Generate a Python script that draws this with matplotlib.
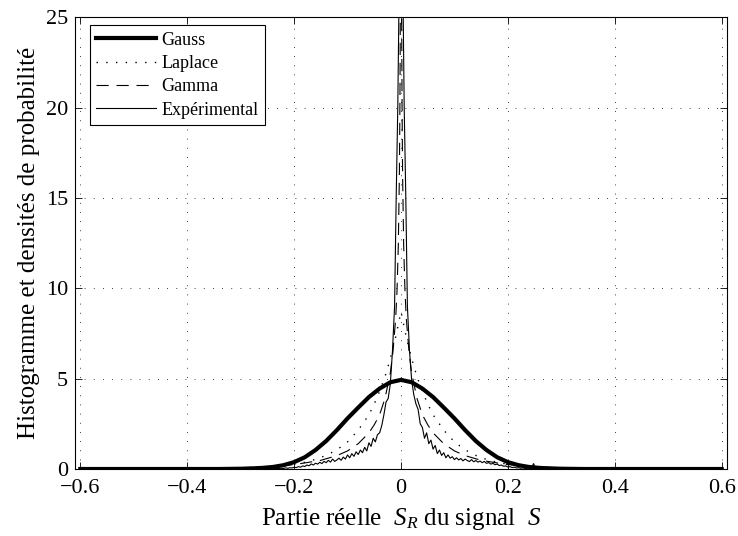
import numpy as np
import matplotlib.pyplot as plt

plt.rcParams['font.family'] = ['Liberation Serif', 'DejaVu Serif']
plt.rcParams['mathtext.fontset'] = 'custom'
plt.rcParams['mathtext.rm'] = 'Liberation Serif'
plt.rcParams['mathtext.it'] = 'Liberation Serif:italic'

# densites (demi-axe positif, symetriques autour de 0)
gauss_x = [0, 0.02, 0.04, 0.06, 0.08, 0.10, 0.12, 0.14, 0.16, 0.18, 0.20,
           0.22, 0.24, 0.26, 0.28, 0.30, 0.34, 0.60]
gauss_y = [4.93, 4.80, 4.45, 3.98, 3.40, 2.80, 2.15, 1.55, 1.05, 0.65, 0.38,
           0.21, 0.11, 0.06, 0.03, 0.015, 0.0, 0.0]

laplace_x = [0, 0.01, 0.02, 0.03, 0.04, 0.05, 0.06, 0.08, 0.10, 0.12, 0.14,
             0.16, 0.18, 0.20, 0.25, 0.30, 0.40, 0.60]
laplace_y = [8.7, 7.3, 6.1, 5.1, 4.3, 3.6, 3.0, 2.15, 1.5, 1.06, 0.75,
             0.53, 0.37, 0.26, 0.11, 0.045, 0.008, 0.0]

gamma_x = [0, 0.001, 0.0015, 0.002, 0.003, 0.005, 0.0075, 0.01, 0.015, 0.02,
           0.03, 0.04, 0.05, 0.06, 0.08, 0.10, 0.12, 0.15, 0.20, 0.25, 0.30,
           0.40, 0.60]
gamma_y = [40, 28.9, 23.4, 20.2, 16.3, 12.4, 9.8, 8.3, 6.5, 5.3,
           3.9, 3.0, 2.45, 2.0, 1.4, 1.0, 0.74, 0.48, 0.24, 0.13, 0.07,
           0.02, 0.003]

# histogramme experimental
exp_centre_x = [-0.016, -0.012, -0.009, -0.006, -0.004, 0, 0.004, 0.006, 0.009, 0.012, 0.016]
exp_centre_y = [6.5, 9.0, 15, 20, 25.5, 32, 25.5, 20, 15, 9.0, 6.5]
exp_step = 0.004  # bins de 0.02 a 0.30
exp_right = [4.9, 4.1, 3.6, 3.3, 2.5, 2.3, 1.7, 2.0, 1.4, 1.6, 1.1, 1.3, 0.85, 1.05,
             0.75, 0.9, 0.62, 0.78, 0.6, 0.68, 0.52, 0.62, 0.5, 0.58, 0.45, 0.55,
             0.47, 0.41, 0.52, 0.4, 0.47, 0.38, 0.44, 0.35, 0.42, 0.31, 0.36, 0.27,
             0.31, 0.24, 0.27, 0.19, 0.22, 0.15, 0.17, 0.11, 0.13, 0.08, 0.1, 0.06,
             0.07, 0.04, 0.06, 0.03, 0.04, 0.02, 0.03, 0.3, 0.02, 0.03, 0.01, 0.02,
             0.01, 0.03, 0.01, 0.0, 0.02, 0.01, 0.0, 0.01, 0.0]
exp_left = [4.7, 3.9, 3.7, 3.0, 2.4, 2.0, 1.9, 1.5, 1.7, 1.25, 1.45, 1.0, 1.2, 0.9,
            1.05, 0.8, 0.95, 0.7, 0.85, 0.62, 0.78, 0.55, 0.66, 0.48, 0.6, 0.5,
            0.42, 0.55, 0.38, 0.48, 0.35, 0.42, 0.3, 0.37, 0.27, 0.32, 0.22, 0.28,
            0.18, 0.22, 0.14, 0.17, 0.1, 0.13, 0.08, 0.1, 0.06, 0.07, 0.04, 0.06,
            0.03, 0.04, 0.02, 0.03, 0.02, 0.03, 0.01, 0.02, 0.01, 0.02, 0.0, 0.01,
            0.02, 0.0, 0.01, 0.0, 0.01, 0.0, 0.01, 0.0, 0.0]
exp_tail_x = [0.34, 0.40, 0.50, 0.60]
exp_tail_y = [0.01, 0.0, 0.005, 0.0]


def mirror(x, y):
    x = np.asarray(x, float)
    y = np.asarray(y, float)
    return np.concatenate([-x[::-1], x[1:]]), np.concatenate([y[::-1], y[1:]])


gx, gy = mirror(gauss_x, gauss_y)
lx, ly = mirror(laplace_x, laplace_y)
gmx, gmy = mirror(gamma_x, gamma_y)

xr = 0.02 + exp_step * np.arange(len(exp_right))
xl = -(0.02 + exp_step * np.arange(len(exp_left)))
ex = np.concatenate([-np.array(exp_tail_x)[::-1], xl[::-1], exp_centre_x, xr, exp_tail_x])
ey = np.concatenate([np.array(exp_tail_y)[::-1], np.array(exp_left)[::-1], exp_centre_y,
                     exp_right, exp_tail_y])

fig = plt.figure(figsize=(7.38, 5.36), dpi=100)
ax = fig.add_axes([0.1016, 0.125, 0.8835, 0.843])

ax.plot(gx, gy, 'k-', lw=3, label='Gauss')
ax.plot(lx, ly, 'k', ls=(0, (1, 6)), lw=1.0, label='Laplace')
ax.plot(gmx, gmy, 'k', ls=(0, (11, 7)), lw=0.8, label='Gamma')
ax.plot(ex, ey, 'k-', lw=0.8, label='Expérimental')

ax.set_xlim(-0.61, 0.61)
ax.set_ylim(0, 25)
ax.set_xticks([-0.6, -0.4, -0.2, 0, 0.2, 0.4, 0.6])
ax.set_xticklabels(['\u22120.6', '\u22120.4', '\u22120.2', '0', '0.2', '0.4', '0.6'])
ax.set_yticks([0, 5, 10, 15, 20, 25])
ax.tick_params(direction='in', top=True, right=True, labelsize=16, length=5, width=0.6)
ax.tick_params(axis='x', pad=7)
ax.tick_params(axis='y', pad=5)
ax.grid(True, linestyle=(0, (1, 10)), color='black', lw=0.6)
for s in ax.spines.values():
    s.set_linewidth(0.8)

ax.set_xlabel(r'Partie réelle  $S_R$ du signal  $S$', fontsize=18, labelpad=6)
ax.set_ylabel('Histogramme et densités de probabilité', fontsize=18, labelpad=4)

leg = ax.legend(loc='upper left', bbox_to_anchor=(0.023, 0.982), borderaxespad=0,
                fontsize=13, fancybox=False, edgecolor='black', framealpha=1,
                handlelength=3.3, labelspacing=0.35, handletextpad=0.3,
                borderpad=0.35)
leg.get_frame().set_linewidth(0.8)

plt.savefig('out.png', dpi=100)
